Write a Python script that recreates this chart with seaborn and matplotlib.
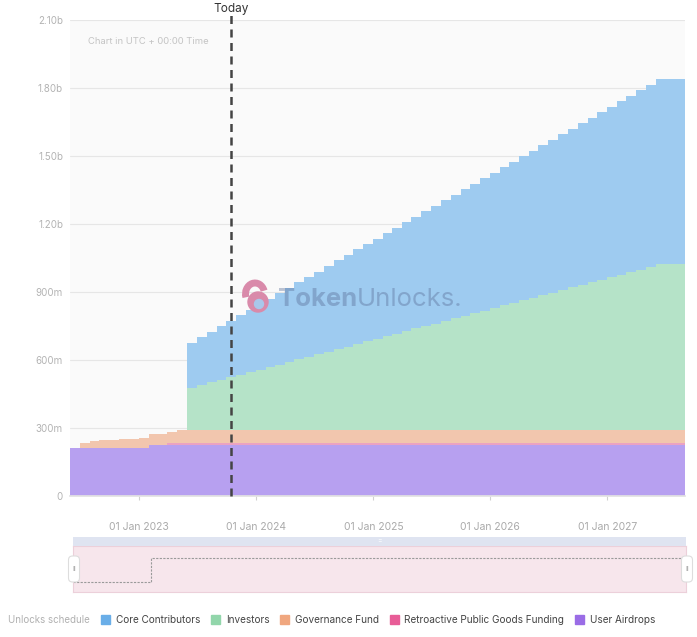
import matplotlib.pyplot as plt
import matplotlib.patches as mpatches
import numpy as np
import pandas as pd
import seaborn as sns

# Monthly unlock schedule (millions of tokens, cumulative per category)
try:
  dates = pd.date_range('2022-05-31', '2027-08-31', freq='ME')
except ValueError:
  dates = pd.date_range('2022-05-31', '2027-08-31', freq='M')

user_airdrops = [213] * 8 + [227] * 56
retro_funding = [0] * 10 + [8] * 54
governance_fund = [0, 22, 30, 34, 36, 38, 40, 43, 47, 47, 47, 55] + [55] * 52
investors = ([0] * 12 +
             [188, 199, 211, 222, 233, 245, 256, 267, 279, 290, 301, 313,
              324, 335, 347, 358, 369, 381, 392, 403, 415, 426, 437, 449,
              460, 471, 483, 494, 505, 517, 528, 539, 551, 562, 573, 585,
              596, 607, 619, 630, 641, 653, 664, 675, 687, 698, 709, 721,
              732] + [732] * 3)
core_contributors = ([0] * 12 +
                     [198, 211, 224, 237, 250, 262, 275, 288, 301, 314, 327,
                      340, 353, 365, 378, 391, 404, 417, 430, 443, 456, 468,
                      481, 494, 507, 520, 533, 546, 559, 571, 584, 597, 610,
                      623, 636, 649, 662, 674, 687, 700, 713, 726, 739, 752,
                      765, 777, 790, 803, 816] + [816] * 3)

series_names = ['User Airdrops', 'Retroactive Public Goods Funding',
                'Governance Fund', 'Investors', 'Core Contributors']
series_values = [user_airdrops, retro_funding, governance_fund, investors,
                 core_contributors]
fill_colors = ['#b7a0f0', '#eba2c2', '#f2c6ae', '#b5e3c8', '#9ecbf0']
legend_colors = ['#9a6ce6', '#e85d97', '#f0a77f', '#92d6ab', '#6aaee8']

today = pd.Timestamp('2023-10-16')
y_ticks = [0, 300, 600, 900, 1200, 1500, 1800, 2100]
y_labels = ['0', '300m', '600m', '900m', '1.20b', '1.50b', '1.80b', '2.10b']
x_ticks = pd.to_datetime(['2023-01-01', '2024-01-01', '2025-01-01',
                          '2026-01-01', '2027-01-01'])
x_labels = ['01 Jan 2023', '01 Jan 2024', '01 Jan 2025', '01 Jan 2026',
            '01 Jan 2027']

sns.set_theme(style='white')
plt.rcParams['font.family'] = ['Inter', 'DejaVu Sans']

W, H = 697, 637
fig = plt.figure(figsize=(W / 100, H / 100), dpi=100)
fig.patch.set_facecolor('white')


def px(x, y):
  # pixel position (from top-left) -> inches for dpi_scale_trans
  return (x / 100, (H - y) / 100)


# Main stacked area chart
ax = fig.add_axes([70 / W, (H - 496) / H, 615 / W, 476 / H])
ax.set_facecolor('#fafafa')
stack = np.cumsum(np.array(series_values, dtype=float), axis=0)
lower = np.zeros(len(dates))
for upper, color in zip(stack, fill_colors):
  ax.fill_between(dates, lower, upper, step='post', color=color, lw=0)
  lower = upper

ax.set_xlim(dates[0], dates[-1])
ax.set_ylim(0, 2100)
ax.set_yticks(y_ticks)
ax.set_yticklabels(y_labels)
ax.set_xticks(x_ticks)
ax.set_xticklabels(x_labels)
ax.grid(axis='y', color='#e6e6e6', lw=0.8)
ax.set_axisbelow(True)
for side in ['top', 'right', 'left']:
  ax.spines[side].set_visible(False)
ax.spines['bottom'].set_color('#e2e2e2')
ax.tick_params(axis='y', length=0, pad=5, labelsize=7, labelcolor='#b3b3b3')
ax.tick_params(axis='x', bottom=True, length=3, width=0.8, color='#d0d0d0',
               pad=16, labelsize=7.5, labelcolor='#aaaaaa')

# Today marker
ax.axvline(today, ymin=0, ymax=1.012, color='#444444', lw=1.8,
           ls=(0, (3.2, 2.2)), clip_on=False, zorder=5)
ax.text(today, 2150, 'Today', ha='center', va='center', fontsize=8.5,
        color='#333333')
ax.text(0.03, 0.955, 'Chart in UTC + 00:00 Time', transform=ax.transAxes,
        fontsize=6.8, color='#c4c4c4', va='center')

# Watermark
tr = fig.dpi_scale_trans
fig.add_artist(mpatches.Arc(px(255, 294), 0.19, 0.22, theta1=20, theta2=200,
                            lw=5, color='#d98aaa', transform=tr))
fig.add_artist(mpatches.Circle(px(258, 302), 0.1, color='#d98aaa',
                               transform=tr))
fig.add_artist(mpatches.Circle(px(259, 304), 0.045, color='#a9c7ea',
                               transform=tr))
t1 = fig.text(278 / W, (H - 300) / H, 'Token', fontsize=18.5,
              fontweight='bold', color='#5a6e96', alpha=0.4, va='center')
ax.annotate('Unlocks.', xy=(1, 0.5), xycoords=t1, va='center', ha='left',
            fontsize=18.5, color='#5a6e96', alpha=0.4)

# Navigator
fig.add_artist(mpatches.Rectangle(px(73, 546), 6.13, 0.09, color='#dfe4f1',
                                  lw=0, transform=tr))
fig.text(380 / W, (H - 541.5) / H, '=', fontsize=5, color='#ffffff',
         ha='center', va='center')
nav = fig.add_axes([73 / W, (H - 592) / H, 613 / W, 46 / H])
nav.set_facecolor('#f7e6ec')
sns.lineplot(x=dates, y=user_airdrops, ax=nav, drawstyle='steps-post',
             color='#9a9a9a', lw=0.8, linestyle=(0, (2, 1.2)))
nav.set_xlim(dates[0], dates[-1])
nav.set_ylim(207, 234)
nav.set_xticks([])
nav.set_yticks([])
nav.set_xlabel('')
nav.set_ylabel('')
for s in nav.spines.values():
  s.set_color('#ecd0da')
  s.set_linewidth(0.8)
for hx in [74, 687]:
  fig.add_artist(mpatches.FancyBboxPatch(px(hx - 5.5, 582), 0.11, 0.26,
                                         boxstyle='round,pad=0,rounding_size=0.04',
                                         fc='white', ec='#dddddd', lw=0.8,
                                         transform=tr))
  fig.text(hx / W, (H - 569) / H, 'II', fontsize=5, color='#999999',
           ha='center', va='center')

# Legend
fig.text(8 / W, (H - 620) / H, 'Unlocks schedule', fontsize=7,
         color='#b0b0b0', va='center')
handles = [mpatches.Patch(color=c, label=n)
           for n, c in zip(series_names[::-1], legend_colors[::-1])]
fig.legend(handles=handles, loc='center left',
           bbox_to_anchor=(92 / W, (H - 620) / H), ncol=5, frameon=False,
           fontsize=7.2, handlelength=0.9, handleheight=0.9, handletextpad=0.6,
           columnspacing=1.05, labelcolor='#444444')

fig.savefig('out.png', dpi=100)
